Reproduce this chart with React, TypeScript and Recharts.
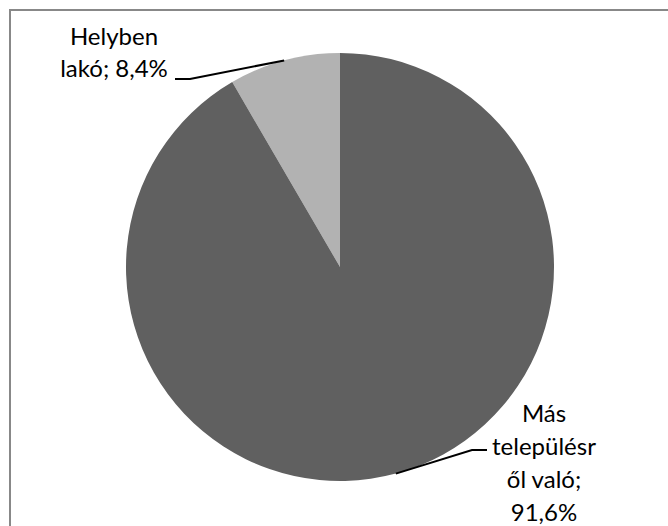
import React from "react";
import { PieChart, Pie, Cell } from "recharts";

const categories = ["Helyben lakó", "Más településről való"];
const values = [8.4, 91.6];
const labelLines = [
  ["Helyben", "lakó; 8,4%"],
  ["Más", "településr", "ől való;", "91,6%"],
];
const colors = ["#b2b2b2", "#606060"];

const data = categories.map((name, i) => ({ name, value: values[i] }));

const FONT = "Lato, 'Open Sans', sans-serif";

const renderLabel = (props: any) => {
  const { cx, cy, midAngle, outerRadius, index } = props;
  const RAD = Math.PI / 180;
  const sx = cx + outerRadius * Math.cos(-midAngle * RAD);
  const sy = cy + outerRadius * Math.sin(-midAngle * RAD);
  const lines = labelLines[index];
  if (index === 0) {
    const ex = cx - 150;
    const ey = cy - 188;
    const tx = ex - 15;
    return (
      <g>
        <polyline points={`${sx},${sy} ${ex},${ey} ${tx},${ey}`} fill="none" stroke="#000" strokeWidth={2} />
        <text x={cx - 226} y={cy - 222} textAnchor="middle" fontFamily={FONT} fontSize={24} fill="#000">
          {lines.map((l, i) => (
            <tspan key={i} x={cx - 226} dy={i === 0 ? 0 : 32}>{l}</tspan>
          ))}
        </text>
      </g>
    );
  }
  const ex = cx + 132;
  const ey = cy + 183;
  const tx = ex + 15;
  return (
    <g>
      <polyline points={`${sx},${sy} ${ex},${ey} ${tx},${ey}`} fill="none" stroke="#000" strokeWidth={2} />
      <text x={cx + 204} y={cy + 155} textAnchor="middle" fontFamily={FONT} fontSize={24} fill="#000">
        {lines.map((l, i) => (
          <tspan key={i} x={cx + 204} dy={i === 0 ? 0 : 33}>{l}</tspan>
        ))}
      </text>
    </g>
  );
};

export default function App() {
  return (
    <div style={{ position: "absolute", left: 0, top: 0, width: 668, height: 526, overflow: "hidden", background: "#fff" }}>
      <div
        style={{
          position: "absolute",
          left: 9,
          top: 9,
          width: 720,
          height: 600,
          borderTop: "2px solid #888",
          borderLeft: "2px solid #888",
        }}
      />
      <div style={{ position: "absolute", left: 0, top: 0 }}>
        <PieChart width={668} height={526} margin={{ top: 0, right: 0, bottom: 0, left: 0 }}>
          <Pie
            data={data}
            dataKey="value"
            nameKey="name"
            cx={340}
            cy={267}
            outerRadius={214}
            startAngle={90}
            endAngle={450}
            stroke="none"
            label={renderLabel}
            labelLine={false}
            isAnimationActive={false}
          >
            {data.map((d, i) => (
              <Cell key={d.name} fill={colors[i]} />
            ))}
          </Pie>
        </PieChart>
      </div>
    </div>
  );
}
